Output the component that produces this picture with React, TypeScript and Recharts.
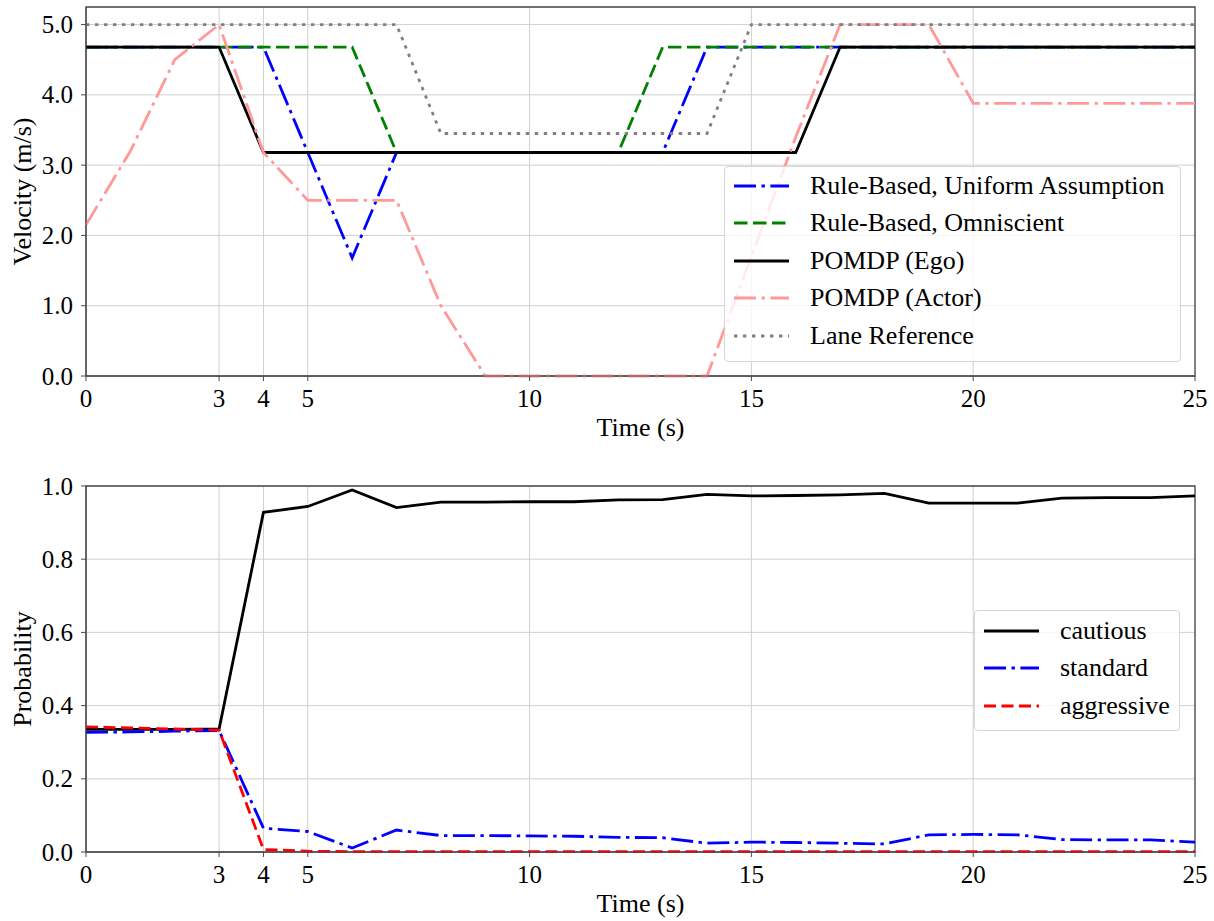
import React from "react";
import { LineChart, Line, XAxis, YAxis, CartesianGrid, Legend, ReferenceArea } from "recharts";

const FONT = '"Liberation Serif", "Times New Roman", serif';

const TIME = [0, 1, 2, 3, 4, 5, 6, 7, 8, 9, 10, 11, 12, 13, 14, 15, 16, 17, 18, 19, 20, 21, 22, 23, 24, 25];
const X_TICKS = [0, 3, 4, 5, 10, 15, 20, 25];
const VEL_TICKS = [0, 1, 2, 3, 4, 5];
const PROB_TICKS = [0, 0.2, 0.4, 0.6, 0.8, 1];

// velocity panel (m/s)
const RULE_UNIFORM = [4.68, 4.68, 4.68, 4.68, 4.68, 3.18, 1.68, 3.18, 3.18, 3.18, 3.18, 3.18, 3.18, 3.18, 4.68, 4.68, 4.68, 4.68, 4.68, 4.68, 4.68, 4.68, 4.68, 4.68, 4.68, 4.68];
const RULE_OMNI = [4.68, 4.68, 4.68, 4.68, 4.68, 4.68, 4.68, 3.18, 3.18, 3.18, 3.18, 3.18, 3.18, 4.68, 4.68, 4.68, 4.68, 4.68, 4.68, 4.68, 4.68, 4.68, 4.68, 4.68, 4.68, 4.68];
const POMDP_EGO = [4.68, 4.68, 4.68, 4.68, 3.18, 3.18, 3.18, 3.18, 3.18, 3.18, 3.18, 3.18, 3.18, 3.18, 3.18, 3.18, 3.18, 4.68, 4.68, 4.68, 4.68, 4.68, 4.68, 4.68, 4.68, 4.68];
const POMDP_ACTOR = [2.15, 3.2, 4.5, 5.0, 3.18, 2.5, 2.5, 2.5, 1.0, 0, 0, 0, 0, 0, 0, 1.7, 3.4, 5.0, 5.0, 5.0, 3.88, 3.88, 3.88, 3.88, 3.88, 3.88];
const LANE_REF = [5.0, 5.0, 5.0, 5.0, 5.0, 5.0, 5.0, 5.0, 3.45, 3.45, 3.45, 3.45, 3.45, 3.45, 3.45, 5.0, 5.0, 5.0, 5.0, 5.0, 5.0, 5.0, 5.0, 5.0, 5.0, 5.0];

// belief panel
const CAUTIOUS = [0.335, 0.335, 0.335, 0.336, 0.928, 0.944, 0.989, 0.941, 0.956, 0.956, 0.957, 0.957, 0.962, 0.963, 0.977, 0.973, 0.974, 0.976, 0.98, 0.953, 0.953, 0.953, 0.967, 0.968, 0.968, 0.973];
const STANDARD = [0.327, 0.328, 0.33, 0.332, 0.065, 0.056, 0.011, 0.06, 0.045, 0.045, 0.044, 0.043, 0.04, 0.039, 0.024, 0.027, 0.026, 0.024, 0.022, 0.047, 0.048, 0.047, 0.034, 0.033, 0.033, 0.027];
const AGGRESSIVE = [0.342, 0.339, 0.336, 0.333, 0.007, 0.002, 0.001, 0.001, 0.001, 0.001, 0.001, 0.001, 0.001, 0.001, 0.001, 0.001, 0.001, 0.001, 0.001, 0.001, 0.001, 0.001, 0.001, 0.001, 0.001, 0.001];

const DASH_DOT = "22 5.5 3.4 5.5";

const VEL_SERIES = [
  { key: "uniform", name: "Rule-Based, Uniform Assumption", color: "#0000ff", dash: DASH_DOT, values: RULE_UNIFORM },
  { key: "omni", name: "Rule-Based, Omniscient", color: "#008000", dash: "13.5 5.5", values: RULE_OMNI },
  { key: "ego", name: "POMDP (Ego)", color: "#000000", dash: undefined, values: POMDP_EGO },
  { key: "actor", name: "POMDP (Actor)", color: "#ff9999", dash: DASH_DOT, values: POMDP_ACTOR },
  { key: "lane", name: "Lane Reference", color: "#808080", dash: "3.4 5.6", values: LANE_REF },
];

const PROB_SERIES = [
  { key: "cautious", name: "cautious", color: "#000000", dash: undefined, values: CAUTIOUS },
  { key: "standard", name: "standard", color: "#0000ff", dash: DASH_DOT, values: STANDARD },
  { key: "aggressive", name: "aggressive", color: "#ff0000", dash: "12 5.5", values: AGGRESSIVE },
];

type Series = { key: string; name: string; color: string; dash?: string; values: number[] };

const buildRows = (series: Series[]) =>
  TIME.map((t, i) => {
    const row: Record<string, number> = { t };
    series.forEach((s) => (row[s.key] = s.values[i]));
    return row;
  });

const velData = buildRows(VEL_SERIES);
const probData = buildRows(PROB_SERIES);

const labelStyle = { fill: "#000", fontSize: 26, fontFamily: FONT };
const SPINE = "#4a4a4a";

// serif tick labels, drawn by hand so the font really applies
const XTick = (props: any) => {
  const { x, y, payload } = props;
  return (
    <text x={x} y={y} dy={18} textAnchor="middle" fill="#000" fontSize={25} fontFamily={FONT}>
      {payload.value}
    </text>
  );
};

const YTick = (props: any) => {
  const { x, y, payload } = props;
  return (
    <text x={x} y={y} dy={8.5} textAnchor="end" fill="#000" fontSize={25} fontFamily={FONT}>
      {Number(payload.value).toFixed(1)}
    </text>
  );
};

function LegendBox({ series, width, padTop, padBottom }: { series: Series[]; width: number; padTop: number; padBottom: number }) {
  return (
    <div
      style={{
        width,
        boxSizing: "border-box",
        background: "rgba(255,255,255,0.8)",
        border: "1px solid #d6d6d6",
        borderRadius: 4,
        paddingTop: padTop,
        paddingBottom: padBottom,
        fontFamily: FONT,
        fontSize: 26,
        color: "#000",
      }}
    >
      {series.map((s) => (
        <div key={s.key} style={{ display: "flex", alignItems: "center", height: 37.5, whiteSpace: "nowrap" }}>
          <svg width={55} height={10} style={{ marginLeft: 9, marginRight: 21, flex: "none" }}>
            <line x1={0} y1={5} x2={55} y2={5} stroke={s.color} strokeWidth={2.8} strokeDasharray={s.dash} />
          </svg>
          <span>{s.name}</span>
        </div>
      ))}
    </div>
  );
}

function Panel({
  data,
  series,
  height,
  top,
  yDomain,
  yTicks,
  yLabel,
  legend,
}: {
  data: Record<string, number>[];
  series: Series[];
  height: number;
  top: number;
  yDomain: [number, number];
  yTicks: number[];
  yLabel: string;
  legend: { left: number; top: number; width: number; padTop: number; padBottom: number };
}) {
  return (
    <LineChart width={1214} height={height} data={data} margin={{ top, right: 19, left: 0, bottom: 9 }} style={{ fontFamily: FONT }}>
      <CartesianGrid stroke="#d0d0d0" strokeWidth={1} />
      <XAxis
        dataKey="t"
        type="number"
        domain={[0, 25]}
        ticks={X_TICKS}
        interval={0}
        height={60}
        tickSize={5}
        tickMargin={8}
        stroke={SPINE}
        tick={<XTick />}
        label={{ value: "Time (s)", position: "insideBottom", offset: 0, ...labelStyle }}
      />
      <YAxis
        type="number"
        domain={yDomain}
        ticks={yTicks}
        interval={0}
        width={86}
        tickSize={5}
        tickMargin={8}
        stroke={SPINE}
        tick={<YTick />}
        label={{ value: yLabel, angle: -90, position: "insideLeft", offset: 22, style: { textAnchor: "middle" }, ...labelStyle }}
      />
      <ReferenceArea x1={0} x2={25} y1={yDomain[0]} y2={yDomain[1]} fill="none" stroke={SPINE} strokeWidth={1.3} fillOpacity={0} />
      {series.map((s) => (
        <Line
          key={s.key}
          type="linear"
          dataKey={s.key}
          name={s.name}
          stroke={s.color}
          strokeWidth={2.8}
          strokeDasharray={s.dash}
          dot={false}
          activeDot={false}
          isAnimationActive={false}
        />
      ))}
      <Legend
        layout="horizontal"
        verticalAlign="middle"
        wrapperStyle={{ left: legend.left, top: legend.top, width: legend.width }}
        content={() => <LegendBox series={series} width={legend.width} padTop={legend.padTop} padBottom={legend.padBottom} />}
      />
    </LineChart>
  );
}

export default function App() {
  return (
    <div style={{ position: "absolute", left: 0, top: 0, width: 1214, height: 921, background: "#fff", fontFamily: FONT }}>
      <div style={{ position: "absolute", left: 0, top: 0 }}>
        <Panel
          data={velData}
          series={VEL_SERIES}
          height={445}
          top={7}
          yDomain={[0, 5.25]}
          yTicks={VEL_TICKS}
          yLabel="Velocity (m/s)"
          legend={{ left: 724, top: 166, width: 457, padTop: 0, padBottom: 6 }}
        />
      </div>
      <div style={{ position: "absolute", left: 0, top: 460 }}>
        <Panel
          data={probData}
          series={PROB_SERIES}
          height={461}
          top={26}
          yDomain={[0, 1]}
          yTicks={PROB_TICKS}
          yLabel="Probability"
          legend={{ left: 974, top: 150, width: 206, padTop: 1, padBottom: 5 }}
        />
      </div>
    </div>
  );
}
